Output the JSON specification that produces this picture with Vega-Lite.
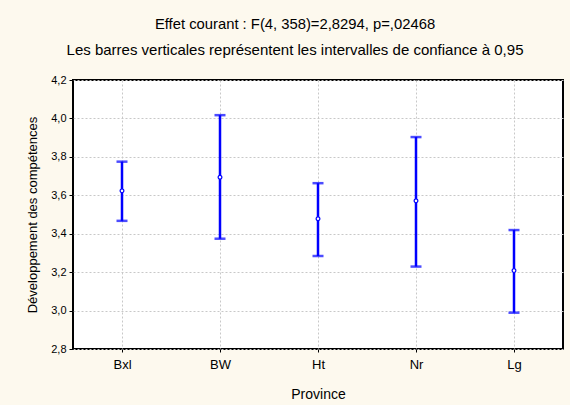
{
  "$schema": "https://vega.github.io/schema/vega-lite/v6.json",
  "width": 490,
  "height": 269,
  "autosize": {"type": "none"},
  "padding": {"left": 73, "top": 80, "right": 7, "bottom": 56},
  "background": "#FDF9EE",
  "title": {
    "text": "Effet courant : F(4, 358)=2,8294, p=,02468",
    "subtitle": "Les barres verticales représentent les intervalles de confiance à 0,95",
    "font": "Liberation Sans",
    "subtitleFont": "Liberation Sans",
    "fontSize": 14.8,
    "subtitleFontSize": 15,
    "fontWeight": "normal",
    "color": "#000000",
    "subtitleColor": "#000000",
    "anchor": "middle",
    "dx": -23,
    "offset": 16,
    "subtitlePadding": 11
  },
  "config": {
    "view": {"stroke": "#000000", "strokeWidth": 2, "fill": "#FFFFFF"},
    "axis": {
      "domain": false,
      "gridColor": "#C8C8C8",
      "gridDash": [2, 2],
      "gridWidth": 1,
      "tickColor": "#000000",
      "labelFont": "Liberation Sans",
      "titleFont": "Liberation Sans",
      "labelColor": "#000000",
      "titleColor": "#000000",
      "titleFontWeight": "normal",
      "labelOverlap": false
    }
  },
  "data": {
    "values": [
      {"Province": "Bxl", "mean": 3.623, "lo": 3.467, "hi": 3.775},
      {"Province": "BW", "mean": 3.694, "lo": 3.374, "hi": 4.017},
      {"Province": "Ht", "mean": 3.478, "lo": 3.284, "hi": 3.663},
      {"Province": "Nr", "mean": 3.571, "lo": 3.229, "hi": 3.903},
      {"Province": "Lg", "mean": 3.208, "lo": 2.989, "hi": 3.419}
    ]
  },
  "encoding": {
    "x": {
      "field": "Province",
      "type": "nominal",
      "sort": ["Bxl", "BW", "Ht", "Nr", "Lg"],
      "scale": {"type": "point", "padding": 0.5},
      "axis": {
        "title": "Province",
        "labelAngle": 0,
        "labelFontSize": 13,
        "titleFontSize": 14,
        "tickSize": 3,
        "labelPadding": 6,
        "titlePadding": 16,
        "grid": true
      }
    }
  },
  "layer": [
    {
      "mark": {"type": "rule", "color": "#0000FF", "strokeWidth": 2.5},
      "encoding": {
        "y": {
          "field": "lo",
          "type": "quantitative",
          "scale": {"domain": [2.8, 4.2], "nice": false, "zero": false},
          "axis": {
            "title": "Développement des compétences",
            "values": [2.8, 3.0, 3.2, 3.4, 3.6, 3.8, 4.0, 4.2],
            "labelExpr": "replace(format(datum.value, '.1f'), '.', ',')",
            "labelFontSize": 11,
            "titleFontSize": 13,
            "tickSize": 4,
            "labelPadding": 3,
            "titlePadding": 11,
            "grid": true
          }
        },
        "y2": {"field": "hi"}
      }
    },
    {
      "mark": {"type": "tick", "color": "#0000FF", "thickness": 2.5, "size": 11, "orient": "horizontal"},
      "encoding": {
        "y": {
          "field": "lo",
          "type": "quantitative",
          "axis": {
            "title": "Développement des compétences",
            "values": [2.8, 3.0, 3.2, 3.4, 3.6, 3.8, 4.0, 4.2],
            "labelExpr": "replace(format(datum.value, '.1f'), '.', ',')",
            "labelFontSize": 11,
            "titleFontSize": 13,
            "tickSize": 4,
            "labelPadding": 3,
            "titlePadding": 11,
            "grid": true
          }
        }
      }
    },
    {
      "mark": {"type": "tick", "color": "#0000FF", "thickness": 2.5, "size": 11, "orient": "horizontal"},
      "encoding": {
        "y": {
          "field": "hi",
          "type": "quantitative",
          "axis": {
            "title": "Développement des compétences",
            "values": [2.8, 3.0, 3.2, 3.4, 3.6, 3.8, 4.0, 4.2],
            "labelExpr": "replace(format(datum.value, '.1f'), '.', ',')",
            "labelFontSize": 11,
            "titleFontSize": 13,
            "tickSize": 4,
            "labelPadding": 3,
            "titlePadding": 11,
            "grid": true
          }
        }
      }
    },
    {
      "mark": {"type": "point", "filled": false, "fill": "#FFFFFF", "stroke": "#0000FF", "strokeWidth": 1.2, "size": 14, "opacity": 1},
      "encoding": {
        "y": {
          "field": "mean",
          "type": "quantitative",
          "axis": {
            "title": "Développement des compétences",
            "values": [2.8, 3.0, 3.2, 3.4, 3.6, 3.8, 4.0, 4.2],
            "labelExpr": "replace(format(datum.value, '.1f'), '.', ',')",
            "labelFontSize": 11,
            "titleFontSize": 13,
            "tickSize": 4,
            "labelPadding": 3,
            "titlePadding": 11,
            "grid": true
          }
        }
      }
    }
  ]
}
